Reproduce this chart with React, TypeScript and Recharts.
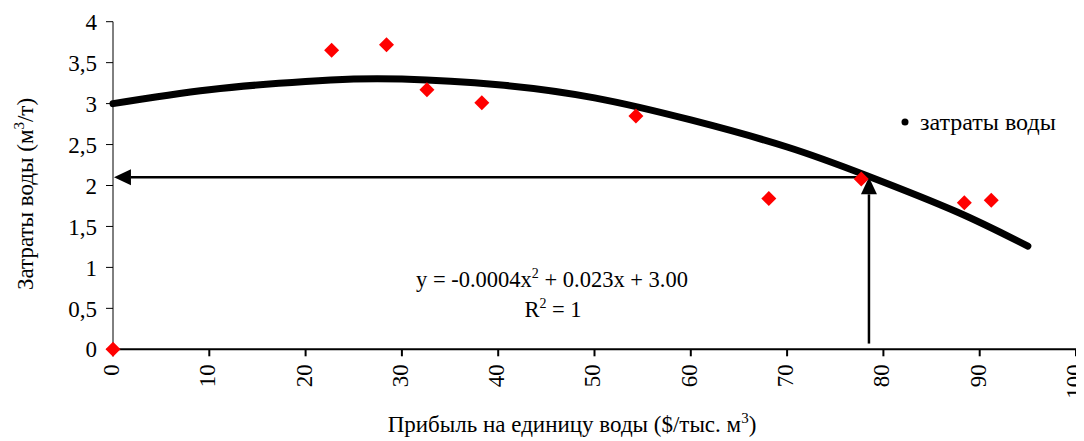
import React from 'react';
import {
  ComposedChart,
  XAxis,
  YAxis,
  Line,
  Scatter,
  ReferenceLine,
  Customized,
} from 'recharts';

const FONT = '"Liberation Serif", "Times New Roman", serif';

// Axis ticks
const xTicks = [0, 10, 20, 30, 40, 50, 60, 70, 80, 90, 100];
const yTicks = [0, 0.5, 1, 1.5, 2, 2.5, 3, 3.5, 4];

// Observed points (red diamonds)
const pointX = [0, 22.7, 28.4, 32.6, 38.3, 54.3, 68.1, 77.7, 88.4, 91.2];
const pointY = [0, 3.65, 3.72, 3.17, 3.01, 2.85, 1.84, 2.08, 1.79, 1.82];

// Trend curve
const curveX = [0, 10, 20, 25, 30, 40, 50, 60, 70, 78.3, 87.6, 95];
const curveY = [3.0, 3.17, 3.27, 3.3, 3.3, 3.23, 3.07, 2.8, 2.47, 2.12, 1.68, 1.26];

// Arrows
const arrowX = 78.5;
const arrowY = 2.1;
const arrowLeftX = 0.1;
const arrowBottomY = 0.07;

// Legend
const legendLabel = 'затраты воды';

const points = pointX.map((x, i) => ({ x, y: pointY[i] }));
const curve = curveX.map((x, i) => ({ x, y: curveY[i] }));

const Diamond = (props: any) => {
  const { cx, cy } = props;
  const r = 7.5;
  return (
    <polygon
      points={`${cx},${cy - r} ${cx + r},${cy} ${cx},${cy + r} ${cx - r},${cy}`}
      fill="#FF0000"
    />
  );
};

const XTick = (props: any) => {
  const { x, y, payload } = props;
  const ay = y + 6;
  return (
    <text
      x={x}
      y={ay}
      transform={`rotate(-90, ${x}, ${ay})`}
      textAnchor="end"
      dy="0.26em"
      fill="#000"
      fontSize={23}
      fontFamily={FONT}
    >
      {payload.value}
    </text>
  );
};

const ArrowShape = (props: any) => {
  const { x1, y1, x2, y2 } = props;
  if ([x1, y1, x2, y2].some((v) => v === undefined || isNaN(v))) return null;
  const dx = x2 - x1;
  const dy = y2 - y1;
  const len = Math.sqrt(dx * dx + dy * dy) || 1;
  const ux = dx / len;
  const uy = dy / len;
  const L = 17;
  const W = 8;
  const bx = x2 - ux * L;
  const by = y2 - uy * L;
  const nx = -uy;
  const ny = ux;
  return (
    <g>
      <line x1={x1} y1={y1} x2={bx} y2={by} stroke="#000" strokeWidth={2.5} />
      <polygon
        points={`${x2},${y2} ${bx + nx * W},${by + ny * W} ${bx - nx * W},${by - ny * W}`}
        fill="#000"
      />
    </g>
  );
};

const Annotations = () => (
  <g fontFamily={FONT} fill="#000">
    <circle cx={897} cy={114} r={3.5} fill="#000" />
    <text x={912} y={122} fontSize={24}>
      {legendLabel}
    </text>
    <text x={544} y={279} textAnchor="middle" fontSize={22.5}>
      y = -0.0004x
      <tspan fontSize={14} dy={-9}>2</tspan>
      <tspan dy={9}> + 0.023x + 3.00</tspan>
    </text>
    <text x={545} y={309} textAnchor="middle" fontSize={22.5}>
      R<tspan fontSize={14} dy={-9}>2</tspan>
      <tspan dy={9}> = 1</tspan>
    </text>
    <text x={564} y={424} textAnchor="middle" fontSize={23}>
      Прибыль на единицу воды ($/тыс. м
      <tspan fontSize={15} dy={-9}>3</tspan>
      <tspan dy={9}>)</tspan>
    </text>
    <text
      x={17}
      y={186}
      transform="rotate(-90, 17, 186)"
      textAnchor="middle"
      dy="0.35em"
      fontSize={23}
    >
      Затраты воды (м
      <tspan fontSize={15} dy={-9}>3</tspan>
      <tspan dy={9}>/т)</tspan>
    </text>
  </g>
);

export default function App() {
  return (
    <div style={{ width: 1076, height: 433, background: '#fff' }}>
      <ComposedChart
        width={1076}
        height={433}
        margin={{ top: 13.7, right: 8, bottom: 0, left: 0 }}
      >
        <XAxis
          type="number"
          dataKey="x"
          domain={[0, 100]}
          ticks={xTicks}
          interval={0}
          height={91.7}
          tickSize={7}
          tickMargin={2}
          tick={<XTick />}
          axisLine={{ stroke: '#000', strokeWidth: 2 }}
          tickLine={{ stroke: '#000', strokeWidth: 2 }}
        />
        <YAxis
          type="number"
          dataKey="y"
          domain={[0, 4]}
          ticks={yTicks}
          interval={0}
          width={105}
          tickSize={7}
          tickMargin={9}
          tickFormatter={(v: number) => String(v).replace('.', ',')}
          tick={{ fill: '#000', fontSize: 23, fontFamily: FONT }}
          axisLine={{ stroke: '#000', strokeWidth: 1 }}
          tickLine={{ stroke: '#000', strokeWidth: 1 }}
        />
        <Scatter
          data={points}
          dataKey="y"
          shape={<Diamond />}
          isAnimationActive={false}
          legendType="none"
        />
        <Line
          data={curve}
          dataKey="y"
          type="natural"
          stroke="#000"
          strokeWidth={7}
          strokeLinecap="round"
          dot={false}
          activeDot={false}
          isAnimationActive={false}
          legendType="none"
        />
        <ReferenceLine
          segment={[
            { x: arrowX, y: arrowY },
            { x: arrowLeftX, y: arrowY },
          ]}
          shape={(p: any) => <ArrowShape {...p} />}
          ifOverflow="visible"
        />
        <ReferenceLine
          segment={[
            { x: arrowX, y: arrowBottomY },
            { x: arrowX, y: arrowY },
          ]}
          shape={(p: any) => <ArrowShape {...p} />}
          ifOverflow="visible"
        />
        <Customized component={<Annotations />} />
      </ComposedChart>
    </div>
  );
}
